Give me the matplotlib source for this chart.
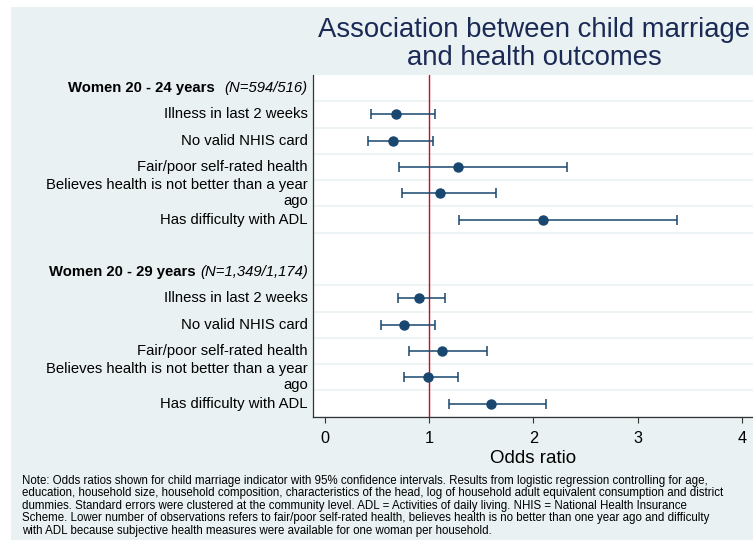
import matplotlib
matplotlib.use("Agg")
import matplotlib.pyplot as plt
from matplotlib.patches import Rectangle

plt.rcParams["font.family"] = ["Liberation Sans", "DejaVu Sans"]

BG = "#e9f1f3"
GRID = "#edf3f5"
NAVY = "#1a476f"
RED = "#cc0a25"

outcomes = ["Illness in last 2 weeks",
            "No valid NHIS card",
            "Fair/poor self-rated health",
            "Believes health is not better than a year\nago",
            "Has difficulty with ADL"]

# women aged 20-24
or_20_24 = [0.68, 0.65, 1.28, 1.10, 2.09]
lo_20_24 = [0.44, 0.41, 0.71, 0.74, 1.29]
hi_20_24 = [1.06, 1.04, 2.32, 1.64, 3.38]

# women aged 20-29
or_20_29 = [0.90, 0.76, 1.12, 0.99, 1.59]
lo_20_29 = [0.70, 0.54, 0.81, 0.76, 1.19]
hi_20_29 = [1.15, 1.06, 1.55, 1.28, 2.12]

groups = [("Women 20 - 24 years", "(N=594/516)", or_20_24, lo_20_24, hi_20_24),
          ("Women 20 - 29 years", "(N=1,349/1,174)", or_20_29, lo_20_29, hi_20_29)]
header_gap = [7, 3]

x_ticks = [0, 1, 2, 3, 4]

note = ("Note: Odds ratios shown for child marriage indicator with 95% confidence intervals. "
        "Results from logistic regression controlling for age,\n"
        "education, household size, household composition, characteristics of the head, "
        "log of household adult equivalent consumption and district\n"
        "dummies. Standard errors were clustered at the community level. "
        "ADL = Activities of daily living. NHIS = National Health Insurance\n"
        "Scheme. Lower number of observations refers to fair/poor self-rated health, "
        "believes health is no better than one year ago and difficulty\n"
        "with ADL because subjective health measures were available for one woman per household.")

fig = plt.figure(figsize=(7.53, 5.43), dpi=100)
fig.patch.set_facecolor("white")
fig.patches.append(Rectangle((11 / 753, 3 / 543), 1, 533 / 543, transform=fig.transFigure,
                             facecolor=BG, edgecolor="none", zorder=-10))

ax = fig.add_axes([312.7 / 753, 126.3 / 543, 1 - 312.7 / 753, 341.7 / 543])
ax.set_facecolor("white")

ytrans = ax.get_yaxis_transform()
row = 0
for gi, (bold, ital, ors, los, his) in enumerate(groups):
    # group header: bold title followed by italic sample size
    t_it = ax.annotate(ital, xy=(0, row), xycoords=ytrans, xytext=(-3.5, 0),
                       textcoords="offset points", ha="right", va="center",
                       fontsize=10.7, style="italic")
    ax.annotate(bold, xy=(0, 0.5), xycoords=t_it, xytext=(-header_gap[gi], 0),
                textcoords="offset points", ha="right", va="center",
                fontsize=10.7, fontweight="bold")
    for k in range(len(outcomes)):
        y = row + 1 + k
        ax.annotate(outcomes[k], xy=(0, y), xycoords=ytrans, xytext=(-3.5, 0),
                    textcoords="offset points", ha="right", va="center",
                    fontsize=10.7, multialignment="right", linespacing=1.15)
        ax.errorbar(ors[k], y, xerr=[[ors[k] - los[k]], [his[k] - ors[k]]],
                    fmt="o", color=NAVY, ms=6.5, elinewidth=1.1, capsize=3.3,
                    capthick=1.1, zorder=3)
    # row separators
    for k in range(len(outcomes) + 1):
        ax.axhline(row + k + 0.5, color=GRID, lw=1.3, zorder=0)
    row += len(outcomes) + 2

ax.axvline(1, color=RED, lw=1.0, zorder=2)

ax.set_ylim(12.5, -0.5)
ax.set_yticks([])
ax.set_xlim(-0.118, 4.107)
ax.set_xticks(x_ticks)
ax.tick_params(axis="x", length=4.5, width=0.8, color="#333333", labelsize=11.7, pad=6)
for side in ["top", "right"]:
    ax.spines[side].set_visible(False)
for side in ["left", "bottom"]:
    ax.spines[side].set_color("#333333")
    ax.spines[side].set_linewidth(0.9)
ax.set_xlabel("Odds ratio", fontsize=13.5, labelpad=2.5)

fig.text(534 / 753, 1 - 44 / 543, "Association between child marriage\nand health outcomes",
         ha="center", va="center", fontsize=19.8, color="#1b2a55", linespacing=1.12)

fig.text(22 / 753, 1 - 475 / 543, note, ha="left", va="top", fontsize=8.3, linespacing=1.05)

fig.savefig("out.png", dpi=100)
